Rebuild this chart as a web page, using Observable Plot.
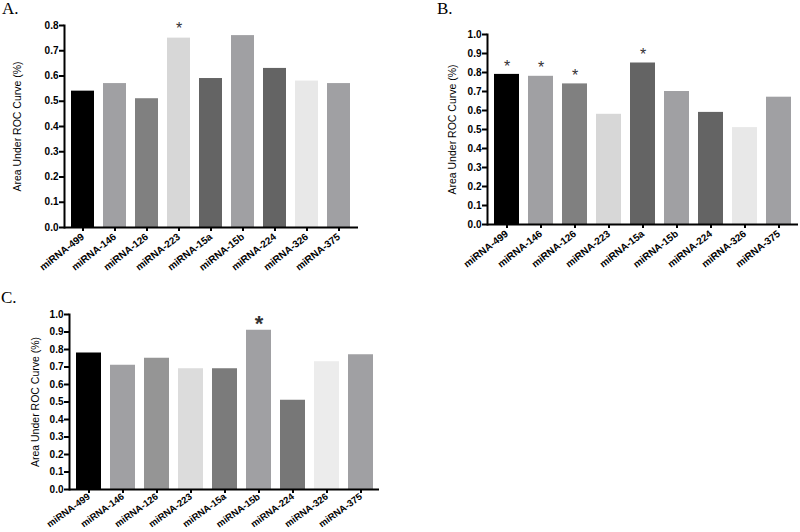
<!DOCTYPE html>
<html><head><meta charset="utf-8">
<script src="https://cdn.jsdelivr.net/npm/d3@7"></script>
<script src="https://cdn.jsdelivr.net/npm/@observablehq/plot@0.6"></script>
<style>
html,body{margin:0;padding:0;background:#fff}
body{width:800px;height:532px;position:relative;overflow:hidden;font-family:"Liberation Sans",Arial,sans-serif}
.panel{position:absolute}
.lbl{position:absolute;font-family:"Liberation Serif","Times New Roman",serif;font-size:17px;line-height:1}
</style></head><body>
<div class="lbl" style="left:2px;top:0px">A.</div>
<div class="lbl" style="left:437px;top:0px">B.</div>
<div class="lbl" style="left:1px;top:289px">C.</div>
<div id="pA" class="panel" style="left:0;top:0"></div>
<div id="pB" class="panel" style="left:400px;top:0"></div>
<div id="pC" class="panel" style="left:0;top:280px"></div>
<script>
const mirnas = ["miRNA-499","miRNA-146","miRNA-126","miRNA-223","miRNA-15a","miRNA-15b","miRNA-224","miRNA-326","miRNA-375"];
const valuesA = [0.54,0.57,0.51,0.75,0.59,0.76,0.63,0.58,0.57];
const valuesB = [0.79,0.78,0.74,0.58,0.85,0.70,0.59,0.51,0.67];
const valuesC = [0.78,0.71,0.75,0.69,0.69,0.91,0.51,0.73,0.77];
const starsA = ["miRNA-223"];
const starsB = ["miRNA-499","miRNA-146","miRNA-126","miRNA-15a"];
const starsC = ["miRNA-15b"];
const yTicksA = [0,0.1,0.2,0.3,0.4,0.5,0.6,0.7,0.8];
const yTicksBC = [0,0.1,0.2,0.3,0.4,0.5,0.6,0.7,0.8,0.9,1.0];
const colorsAB = ["#000000","#a0a0a3","#808080","#d7d7d7","#646464","#a0a0a3","#646464","#e8e8e8","#a0a0a3"];
const colorsC = ["#000000","#a0a0a3","#959595","#dcdcdc","#7b7b7b","#a0a0a3","#777777","#ececec","#a0a0a3"];
const yTitle = "Area Under ROC Curve (%)";

function panel(o) {
  const data = mirnas.map((m, i) => ({m, v: o.values[i], c: o.colors[i]}));
  const starred = data.filter(d => o.stars.includes(d.m));
  return Plot.plot({
    width: o.width, height: o.height,
    marginTop: o.mt, marginRight: o.mr, marginBottom: o.mb, marginLeft: o.ml,
    style: {fontFamily: "'Liberation Sans', Arial, sans-serif", fontSize: "10px", fontWeight: "bold", background: "transparent", overflow: "visible"},
    x: {domain: mirnas, paddingInner: 0.27, paddingOuter: 0.13, label: null},
    y: {domain: [0, o.yMax], label: null},
    marks: [
      Plot.barY(data, {x: "m", y: "v", fill: "c"}),
      Plot.axisY({ticks: o.yTicks, tickFormat: d3.format(".1f"), tickSize: 5, tickPadding: 1, strokeWidth: 2, label: null, fontSize: 10}),
      Plot.axisX({tickRotate: o.rot, tickSize: 4, tickPadding: o.pad, strokeWidth: 2, label: null, fontSize: o.xfs}),
      Plot.ruleY([0], {strokeWidth: 2}),
      Plot.frame({anchor: "left", strokeWidth: 2}),
      Plot.text(starred, {x: "m", y: "v", text: () => "*", dy: o.starDy, fontSize: o.starSize, fontWeight: o.starWeight, fill: "#333", lineAnchor: "middle"}),
      Plot.text([yTitle], {frameAnchor: "left", rotate: -90, dx: o.titleDx, textAnchor: "middle", fontSize: 10.5, fontWeight: "normal"})
    ]
  });
}

document.getElementById("pA").append(panel({values: valuesA, colors: colorsAB, stars: starsA, yMax: 0.8, yTicks: yTicksA,
  width: 400, height: 270, mt: 25, mr: 42, mb: 43, ml: 64, titleDx: -47, starDy: -9, starSize: 16, starWeight: "normal", rot: -38, pad: 4, xfs: 10}));
document.getElementById("pB").append(panel({values: valuesB, colors: colorsAB, stars: starsB, yMax: 1.0, yTicks: yTicksBC,
  width: 400, height: 290, mt: 34, mr: 2, mb: 66, ml: 87, titleDx: -35, starDy: -8, starSize: 16, starWeight: "normal", rot: -38, pad: 4, xfs: 10}));
document.getElementById("pC").append(panel({values: valuesC, colors: colorsC, stars: starsC, yMax: 1.0, yTicks: yTicksBC,
  width: 400, height: 252, mt: 34, mr: 21, mb: 43, ml: 69, titleDx: -34, starDy: -6, starSize: 22, starWeight: "bold", rot: -36, pad: 2, xfs: 9.5}));
</script>
</body></html>
